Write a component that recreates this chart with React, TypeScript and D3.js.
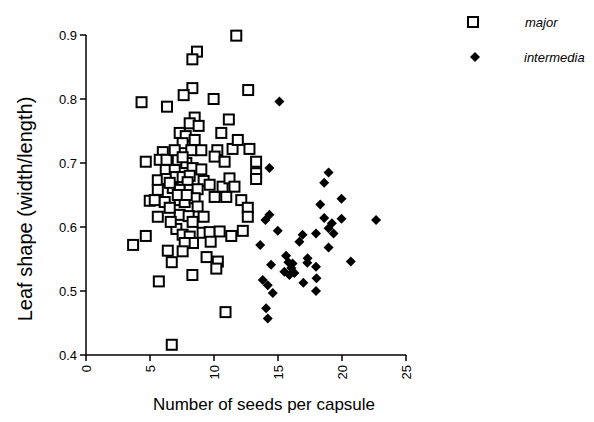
import React from "react";
import * as d3 from "d3";

const majorSeeds = [11.74, 8.67, 8.31, 4.34, 6.33, 8.31, 7.63, 9.97, 12.67, 8.49, 8.1, 8.8, 11.16, 7.32, 7.79, 10.57, 8.49, 7.55, 8.23, 9.01, 10.26, 11.45, 11.86, 12.77, 10.05, 10.83, 13.29, 13.29, 13.29, 6.0, 4.67, 5.76, 6.29, 7.17, 7.84, 8.33, 9.01, 6.23, 6.93, 5.61, 6.31, 7.01, 7.55, 8.1, 7.94, 9.19, 9.66, 10.67, 11.21, 11.6, 6.78, 7.32, 8.1, 8.72, 5.61, 4.98, 5.37, 6.15, 7.32, 7.71, 8.49, 8.72, 10.05, 10.96, 12.13, 12.64, 12.64, 5.61, 7.32, 8.02, 9.19, 7.06, 7.55, 8.1, 9.11, 9.66, 10.44, 11.35, 12.25, 9.74, 8.36, 4.67, 3.68, 7.71, 6.39, 7.55, 9.42, 6.7, 10.3, 10.18, 8.31, 5.69, 10.9, 6.7, 6.93, 6.54, 7.17, 7.87, 6.54, 8.33, 6.62, 7.55];
const majorShape = [0.899, 0.874, 0.862, 0.795, 0.788, 0.817, 0.806, 0.8, 0.814, 0.771, 0.762, 0.758, 0.768, 0.747, 0.742, 0.747, 0.736, 0.731, 0.72, 0.72, 0.72, 0.722, 0.736, 0.722, 0.71, 0.702, 0.702, 0.684, 0.675, 0.717, 0.702, 0.705, 0.705, 0.705, 0.7, 0.692, 0.69, 0.689, 0.689, 0.673, 0.675, 0.678, 0.678, 0.68, 0.67, 0.672, 0.666, 0.663, 0.676, 0.663, 0.661, 0.658, 0.658, 0.659, 0.658, 0.641, 0.642, 0.639, 0.642, 0.639, 0.645, 0.632, 0.647, 0.647, 0.642, 0.63, 0.616, 0.616, 0.619, 0.617, 0.616, 0.597, 0.588, 0.585, 0.591, 0.592, 0.593, 0.586, 0.594, 0.577, 0.575, 0.586, 0.572, 0.575, 0.563, 0.562, 0.553, 0.545, 0.546, 0.535, 0.525, 0.515, 0.467, 0.416, 0.72, 0.669, 0.65, 0.65, 0.63, 0.608, 0.608, 0.709];

const intermediaSeeds = [15.11, 14.33, 18.95, 18.61, 18.3, 19.96, 14.33, 14.02, 14.98, 18.61, 19.21, 19.96, 18.95, 17.97, 19.34, 16.92, 16.67, 13.61, 18.95, 20.69, 15.63, 16.14, 17.31, 17.97, 14.46, 15.89, 15.5, 16.28, 18.01, 16.98, 17.97, 13.81, 14.2, 14.59, 14.07, 14.2, 22.66, 15.81, 16.04, 17.29];
const intermediaShape = [0.796, 0.692, 0.685, 0.669, 0.635, 0.644, 0.619, 0.611, 0.594, 0.614, 0.606, 0.613, 0.598, 0.59, 0.59, 0.588, 0.577, 0.572, 0.568, 0.546, 0.555, 0.543, 0.551, 0.538, 0.541, 0.525, 0.53, 0.528, 0.52, 0.513, 0.5, 0.517, 0.509, 0.497, 0.473, 0.457, 0.611, 0.545, 0.536, 0.544];

const xTicks = [0, 5, 10, 15, 20, 25];
const yTicks = [0.4, 0.5, 0.6, 0.7, 0.8, 0.9];
const seriesNames = ["major", "intermedia"];

const W = 594;
const H = 422;
const FONT = "'Liberation Sans', Arial, Helvetica, sans-serif";

export default function App() {
  const x = d3.scaleLinear().domain([0, 25]).range([86, 406]);
  const y = d3.scaleLinear().domain([0.4, 0.9]).range([355, 35]);
  const diamond = d3.symbol(d3.symbolSquare, 50)() as string;
  const sq = 10;

  return (
    <svg width={W} height={H} style={{ position: "absolute", left: 0, top: 0, background: "#fff" }} fontFamily={FONT}>
      <line x1={x(0)} x2={x(25)} y1={y(0.4)} y2={y(0.4)} stroke="#000" strokeWidth={1.5} />
      <line x1={x(0)} x2={x(0)} y1={y(0.4)} y2={y(0.9)} stroke="#000" strokeWidth={1.5} />
      {yTicks.map((t) => (
        <g key={"y" + t}>
          <line x1={x(0) - 6} x2={x(0)} y1={y(t)} y2={y(t)} stroke="#000" strokeWidth={1.5} />
          <text x={x(0) - 9} y={y(t)} dy="0.35em" textAnchor="end" fontSize={13}>
            {t.toFixed(1)}
          </text>
        </g>
      ))}
      {xTicks.map((t) => (
        <g key={"x" + t}>
          <line x1={x(t)} x2={x(t)} y1={y(0.4)} y2={y(0.4) + 6} stroke="#000" strokeWidth={1.5} />
          <text
            transform={`translate(${x(t)},${y(0.4) + 10}) rotate(-90)`}
            dy="0.35em"
            textAnchor="end"
            fontSize={13}
          >
            {t}
          </text>
        </g>
      ))}
      <text x={264} y={410} textAnchor="middle" fontSize={17}>
        Number of seeds per capsule
      </text>
      <text transform={`translate(32,209) rotate(-90)`} textAnchor="middle" fontSize={20}>
        Leaf shape (width/length)
      </text>

      {majorSeeds.map((s, i) => (
        <rect
          key={"m" + i}
          x={x(s) - sq / 2}
          y={y(majorShape[i]) - sq / 2}
          width={sq}
          height={sq}
          fill="#fff"
          stroke="#000"
          strokeWidth={2}
        />
      ))}
      {intermediaSeeds.map((s, i) => (
        <path
          key={"d" + i}
          d={diamond}
          transform={`translate(${x(s)},${y(intermediaShape[i])}) rotate(45)`}
          fill="#000"
        />
      ))}

      <rect x={473 - sq / 2} y={22 - sq / 2} width={sq} height={sq} fill="#fff" stroke="#000" strokeWidth={2} />
      <text x={525} y={22} dy="0.35em" fontSize={13} fontStyle="italic">
        {seriesNames[0]}
      </text>
      <path d={diamond} transform={`translate(475,57) rotate(45)`} fill="#000" />
      <text x={524} y={57} dy="0.35em" fontSize={13} fontStyle="italic">
        {seriesNames[1]}
      </text>
    </svg>
  );
}
